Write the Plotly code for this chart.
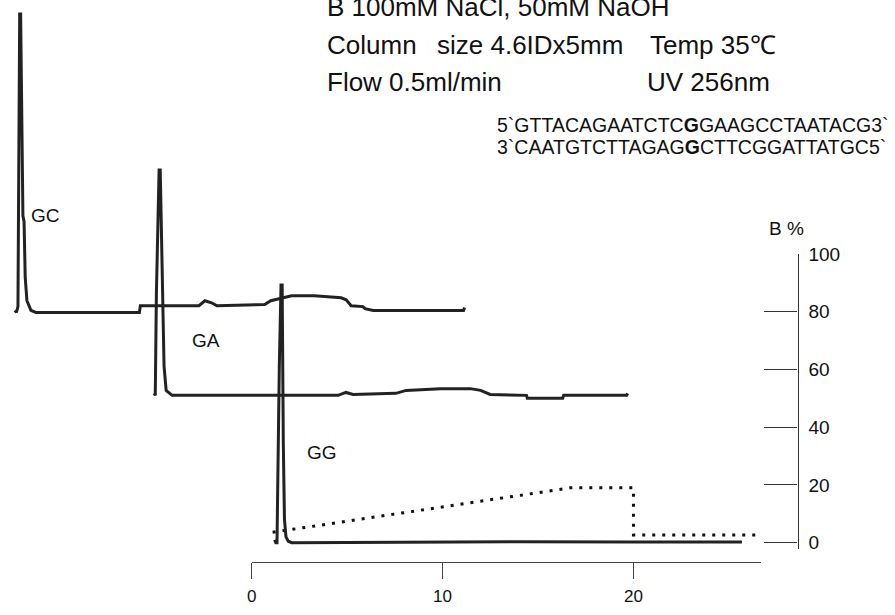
import plotly.graph_objects as go

W, H = 895, 615

# ---------------- data ----------------
# chromatogram GC (time in min, absorbance in arbitrary units)
gc_time = [1.30, 1.38, 1.46, 1.50, 1.55, 1.60, 1.66, 1.72, 1.78, 1.84, 1.93, 2.14, 2.40,
           7.82, 7.87, 10.94, 11.25, 11.60, 11.88, 14.38, 14.70, 15.79, 16.98, 18.39,
           18.65, 18.91, 19.53, 19.64, 20.06, 24.80, 24.85]
gc_abs = [0.7, 0.0, 2.0, 70, 102, 102, 62, 33, 31, 12, 4, 0.7, 0.0,
          0.0, 2.3, 2.3, 4.0, 3.3, 2.3, 2.7, 4.0, 5.7, 5.7, 5.0,
          4.3, 2.3, 2.0, 1.3, 0.7, 0.7, 1.7]

# chromatogram GA
ga_time = [1.30, 1.36, 1.42, 1.48, 1.56, 1.62, 1.70, 1.77, 1.82, 1.93, 2.24,
           10.94, 11.35, 11.72, 13.96, 14.50, 16.30, 17.86, 18.40, 18.90,
           20.80, 20.85, 22.70, 22.75, 26.05, 26.10]
ga_abs = [0.7, 0.0, 35, 60, 77, 77, 50, 25, 10, 1.7, 0.0,
          0.0, 1.0, 0.3, 0.7, 1.7, 2.3, 2.3, 1.7, 0.3,
          0.0, -1.0, -1.0, 0.0, 0.0, 0.7]

# chromatogram GG
gg_time = [1.20, 1.27, 1.33, 1.37, 1.45, 1.54, 1.60, 1.66, 1.72, 1.80, 1.92, 2.10,
           8.0, 14.0, 20.0, 25.68]
gg_abs = [1.0, 0.0, 0.0, 28, 60, 88, 88, 34, 8, 2.0, 0.5, 0.0,
          0.2, 0.3, 0.2, 0.2]

# gradient program (B %)
grad_time = [1.1, 16.7, 20.0, 20.0, 26.4]
grad_b = [3.6, 19.0, 19.0, 2.7, 2.7]

time_ticks = [0, 10, 20]
b_ticks = [0, 20, 40, 60, 80, 100]
peak_names = ["GC", "GA", "GG"]

# ---------------- layout constants ----------------
PX_PER_MIN = 19.2
PX_PER_AU = 3.0
# pixel position of (t=0, A=0) for each stacked chromatogram
ORIGIN = {"GG": (248, 546), "GA": (125, 395), "GC": (-15, 310)}
LINE = "#222222"
FONT = "Liberation Sans, Arial, sans-serif"


def px(x):
    return x / W


def py(y):
    return 1 - y / H


def xrange_for(ox):
    return [-ox / PX_PER_MIN, (W - ox) / PX_PER_MIN]


def yrange_for(oy):
    return [-(H - oy) / PX_PER_AU, oy / PX_PER_AU]


fig = go.Figure()

# gradient (dotted) on main time axis + B% axis
fig.add_trace(go.Scatter(x=grad_time, y=grad_b, mode="lines", xaxis="x", yaxis="y",
                         line=dict(color="#111111", width=3, dash="3px,7px"),
                         hoverinfo="skip", showlegend=False))

# chromatograms: stacked on offset (hidden) axes with the same time scale
fig.add_trace(go.Scatter(x=gg_time, y=gg_abs, mode="lines", xaxis="x2", yaxis="y2",
                         line=dict(color=LINE, width=3), showlegend=False))
fig.add_trace(go.Scatter(x=ga_time, y=ga_abs, mode="lines", xaxis="x3", yaxis="y3",
                         line=dict(color=LINE, width=3), showlegend=False))
fig.add_trace(go.Scatter(x=gc_time, y=gc_abs, mode="lines", xaxis="x4", yaxis="y4",
                         line=dict(color=LINE, width=3), showlegend=False))

x_left, x_right = 248, 760
x_axis_y = 566
b_top, b_bottom = 250, 552
b_zero = 546
b_px_per = (b_zero - b_top) / 100.0

hidden = dict(visible=False, showgrid=False, zeroline=False)

fig.update_layout(
    width=W, height=H, autosize=False,
    margin=dict(l=0, r=0, t=0, b=0),
    paper_bgcolor="white", plot_bgcolor="rgba(0,0,0,0)",
    font=dict(family=FONT, color="#111111"),
    showlegend=False,
    xaxis=dict(domain=[px(x_left), px(x_right)],
               range=[0, (x_right - x_left) / PX_PER_MIN],
               anchor="free", position=py(x_axis_y),
               showline=True, linecolor="#444444", linewidth=1.2,
               ticks="outside", ticklen=16, tickwidth=1.2, tickcolor="#444444",
               tickvals=time_ticks, ticktext=[str(v) for v in time_ticks],
               tickfont=dict(size=17), ticklabelstandoff=2,
               showgrid=False, zeroline=False),
    yaxis=dict(domain=[py(b_bottom), py(b_top)],
               range=[-(b_bottom - b_zero) / b_px_per, 100],
               anchor="free", side="right", position=px(797),
               showline=True, linecolor="#333333", linewidth=1.2,
               ticks="inside", ticklen=33, tickwidth=1.2, tickcolor="#333333",
               tickvals=b_ticks, tickfont=dict(size=19), ticklabelstandoff=6,
               showgrid=False, zeroline=False),
    xaxis2=dict(domain=[0, 1], range=xrange_for(ORIGIN["GG"][0]), anchor="y2", **hidden),
    yaxis2=dict(domain=[0, 1], range=yrange_for(ORIGIN["GG"][1]), anchor="x2", **hidden),
    xaxis3=dict(domain=[0, 1], range=xrange_for(ORIGIN["GA"][0]), anchor="y3", **hidden),
    yaxis3=dict(domain=[0, 1], range=yrange_for(ORIGIN["GA"][1]), anchor="x3", **hidden),
    xaxis4=dict(domain=[0, 1], range=xrange_for(ORIGIN["GC"][0]), anchor="y4", **hidden),
    yaxis4=dict(domain=[0, 1], range=yrange_for(ORIGIN["GC"][1]), anchor="x4", **hidden),
)

ann = []


def text(x, y, s, size, xanchor="left"):
    ann.append(dict(x=px(x), y=py(y), xref="paper", yref="paper", text=s,
                    showarrow=False, xanchor=xanchor, yanchor="middle",
                    font=dict(size=size, family=FONT, color="#111111")))


# header conditions (first line runs off the top edge, as in the original)
text(322, -3, "B 100mM NaCl, 50mM NaOH", 26)
text(322, 36, "Column", 26)
text(432, 36, "size 4.6IDx5mm", 26)
text(647, 36, "Temp 35\u2103", 26)
text(322, 74, "Flow 0.5ml/min", 26)
text(644, 74, "UV 256nm", 26)

# sequences
text(493, 118, "5`GTTACAGAATCTC<b>G</b>GAAGCCTAATACG3`", 19.5)
text(493, 140, "3`CAATGTCTTAGAG<b>G</b>CTTCGGATTATGC5`", 19.5)

# B% label
text(786, 224, "B %", 19, xanchor="center")

# peak labels
text(24, 211, peak_names[0], 19)
text(186, 339, peak_names[1], 19)
text(302, 454, peak_names[2], 19)

fig.update_layout(annotations=ann)

fig.write_html("out.html", config={"displayModeBar": False},
               post_script="document.body.style.margin='0';")
